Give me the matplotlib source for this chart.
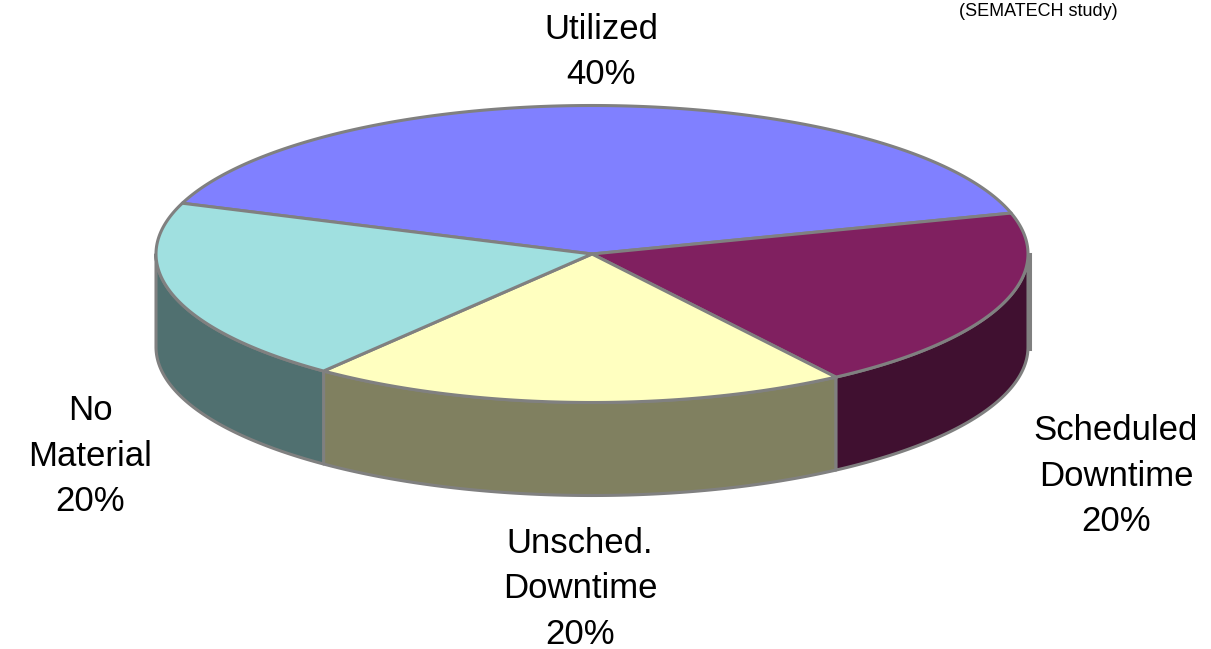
import numpy as np
import matplotlib
matplotlib.use('Agg')
import matplotlib.pyplot as plt
from matplotlib.patches import Polygon

# share of tool time, clockwise from the back left of the disc
labels = ['Utilized', 'Scheduled\nDowntime', 'Unsched.\nDowntime', 'No\nMaterial']
shares = [40, 20, 20, 20]
top_colors = ['#8080FF', '#802060', '#FFFFC0', '#A0E0E0']
side_colors = ['#404080', '#401030', '#808060', '#507070']
label_pos = [(601, 52), (1116, 476), (580, 589), (90, 456)]

EDGE = '#808080'
CX, CY = 592, 254
RX, RY = 436, 148.5
DEPTH = 93
START = 160

plt.rcParams['font.family'] = ['Liberation Sans', 'DejaVu Sans']

fig = plt.figure(figsize=(12.11, 6.49), dpi=100)
ax = fig.add_axes([0, 0, 1, 1])
ax.set_xlim(0, 1211)
ax.set_ylim(649, 0)
ax.axis('off')


def rim(a0, a1, drop=0.0):
    t = np.radians(np.linspace(a0, a1, 200))
    return np.column_stack([CX + RX * np.cos(t), CY - RY * np.sin(t) + drop])


# wedge limits in degrees, going clockwise
edges = START - np.cumsum([0] + shares) * 3.6

# stub of the back wall showing past the right edge
ax.plot([CX + RX + 2] * 2, [CY, CY + DEPTH + 2], color=EDGE, lw=2.2, zorder=1)

# front wall, only the part of each wedge that faces down
for a0, a1, col in zip(edges[:-1], edges[1:], side_colors):
    a_start = min(a0, 0)
    a_end = max(a1, -180)
    if a_start <= a_end:
        continue
    pts = np.vstack([rim(a_start, a_end), rim(a_end, a_start, DEPTH)])
    ax.add_patch(Polygon(pts, closed=True, fc=col, ec=EDGE, lw=2.2, joinstyle='round', zorder=2))

# top face
for a0, a1, col in zip(edges[:-1], edges[1:], top_colors):
    pts = np.vstack([[[CX, CY]], rim(a0, a1)])
    ax.add_patch(Polygon(pts, closed=True, fc=col, ec=EDGE, lw=2.2, joinstyle='round', zorder=3))

# labels with their percentages
for lab, val, (x, y) in zip(labels, shares, label_pos):
    ax.text(x, y, '%s\n%d%%' % (lab, val), ha='center', va='center', fontsize=25,
            linespacing=1.49, color='black', zorder=4)

ax.text(1038, 11, '(SEMATECH study)', ha='center', va='center', fontsize=13, color='black', zorder=4)

fig.savefig('out.png', dpi=100, facecolor='white')
